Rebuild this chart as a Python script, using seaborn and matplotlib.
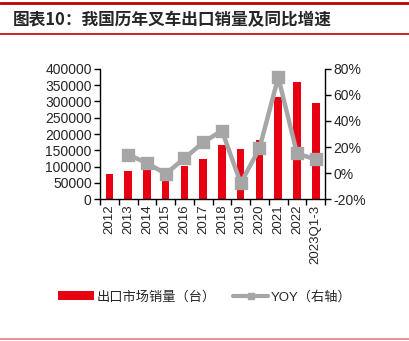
import numpy as np
import pandas as pd
import matplotlib
matplotlib.use("Agg")
import matplotlib.pyplot as plt
import seaborn as sns
from matplotlib.patches import Patch
from matplotlib.lines import Line2D
from matplotlib.ticker import FuncFormatter, FixedLocator

years = ["2012", "2013", "2014", "2015", "2016", "2017", "2018", "2019",
         "2020", "2021", "2022", "2023Q1-3"]
export_units = [76500, 87000, 97500, 91000, 101500, 124000, 166000, 154000,
                180500, 315000, 359000, 296000]
yoy_pct = [np.nan, 14.1, 7.7, -0.5, 11.3, 23.6, 32.6, -7.7, 19.0, 73.6, 15.1, 10.5]

title_text = "图表10：我国历年叉车出口销量及同比增速"
bar_label = "出口市场销量（台）"
line_label = "YOY（右轴）"

RED = "#E60012"
GRAY = "#A6A6A6"

sns.set_theme(style="white")
plt.rcParams["font.family"] = ["Liberation Sans", "Noto Sans CJK SC", "DejaVu Sans"]

fig = plt.figure(figsize=(4.10, 3.41), dpi=100)
ax = fig.add_axes([0.244, 0.416, 0.549, 0.382])

df = pd.DataFrame({"year": years, "units": export_units, "yoy": yoy_pct})

sns.barplot(data=df, x="year", y="units", order=years, color=RED,
            width=0.4, saturation=1, ax=ax, edgecolor="none")
ax.set_ylim(0, 400000)
ax.set_yticks(np.arange(0, 400001, 50000))
ax.set_xlabel("")
ax.set_ylabel("")

ax2 = ax.twinx()
sns.pointplot(data=df, x="year", y="yoy", order=years, color=GRAY,
              markers="s", markersize=7, linewidth=3.2, errorbar=None, ax=ax2)
ax2.set_ylim(-20, 80)
ax2.set_yticks(np.arange(-20, 81, 20))
ax2.yaxis.set_major_formatter(FuncFormatter(lambda v, p: f"{v:.0f}%"))
ax2.set_ylabel("")
ax2.set_xlabel("")
ax.set_xlim(-0.5, len(years) - 0.5)
ax2.set_xlim(-0.5, len(years) - 0.5)

for a in (ax, ax2):
    for s in a.spines.values():
        s.set_visible(False)
ax.spines["left"].set_visible(True)
ax.spines["bottom"].set_visible(True)
ax2.spines["right"].set_visible(True)
for s in (ax.spines["left"], ax.spines["bottom"], ax2.spines["right"]):
    s.set_color("black")
    s.set_linewidth(1.0)

ax.tick_params(axis="y", which="major", direction="out", length=4, width=1,
               color="black", labelsize=10, pad=2, left=True)
ax2.tick_params(axis="y", which="major", direction="out", length=4, width=1,
                color="black", labelsize=10, pad=2, right=True)
ax.set_xticks(range(len(years)))
ax.set_xticklabels(years, rotation=90, fontsize=9.5)
ax.tick_params(axis="x", which="major", length=0, pad=4, bottom=False)
ax.xaxis.set_minor_locator(FixedLocator(np.arange(-0.5, len(years), 1.0)))
ax.tick_params(axis="x", which="minor", direction="out", length=4, width=1,
               color="black", bottom=True)
ax2.tick_params(axis="x", which="both", length=0, labelbottom=False)
ax.grid(False)
ax2.grid(False)

handles = [Patch(facecolor=RED, edgecolor="none", label=bar_label),
           Line2D([0], [0], color=GRAY, lw=3, marker="s", markersize=5,
                  label=line_label)]
fig.legend(handles=handles, loc="center", bbox_to_anchor=(0.5, 1 - 297 / 341),
           ncol=2, frameon=False, fontsize=9.5, handlelength=2.7,
           handletextpad=0.2, columnspacing=1.3)

fig.text(0.03, 1 - 20 / 341, title_text, fontsize=12, fontweight="bold",
         va="center", ha="left", family=["Noto Sans CJK SC"])
fig.add_artist(Line2D([0, 1], [1 - 3 / 341] * 2, color="#C00000", lw=2))
fig.add_artist(Line2D([0, 1], [1 - 33.5 / 341] * 2, color="#C00000", lw=1.2))
fig.add_artist(Line2D([0, 1], [1 - 339 / 341] * 2, color="#E08080", lw=1.2))

fig.savefig("out.png", dpi=100)
